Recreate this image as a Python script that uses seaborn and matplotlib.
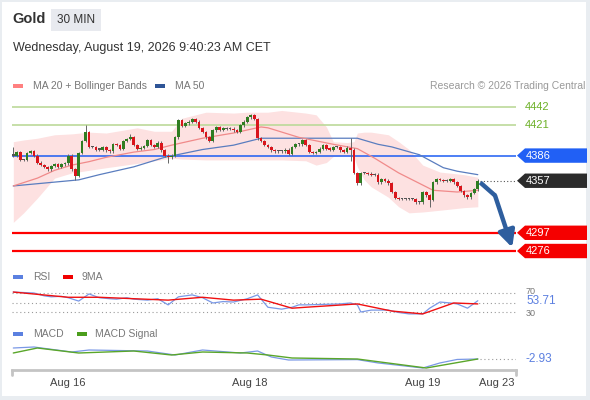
import numpy as np
import pandas as pd
import matplotlib
matplotlib.use("Agg")
import matplotlib.pyplot as plt
import matplotlib.transforms as mtransforms
from matplotlib.patches import Polygon, Rectangle
from matplotlib.lines import Line2D
import seaborn as sns

# --- price candles (30 min closes) ---
closes = [
    4386, 4390, 4381, 4381, 4389, 4391, 4386, 4378, 4375, 4373, 4370, 4374, 4376, 4373, 4376, 4377,
    4386, 4370, 4363, 4389, 4403, 4413, 4396, 4396, 4393, 4393, 4396, 4392, 4391, 4399, 4398, 4394,
    4403, 4405, 4407, 4398, 4394, 4395, 4397, 4404, 4398, 4396, 4401, 4392,
    4386, 4384, 4386, 4407, 4427, 4420, 4423, 4425, 4428, 4425, 4418, 4413, 4407, 4403, 4415, 4419,
    4416, 4417, 4417, 4417, 4415, 4413, 4421, 4425, 4430, 4433, 4428, 4406, 4403, 4398, 4396, 4392,
    4391, 4391, 4391, 4393, 4388, 4396, 4399, 4399, 4404, 4398, 4390, 4389, 4390, 4394, 4398, 4394,
    4393, 4396, 4396, 4392, 4390, 4395, 4393, 4366, 4354, 4366, 4366, 4365, 4364, 4364, 4355, 4359,
    4357, 4354, 4344, 4337, 4336, 4336, 4336, 4336, 4336, 4332, 4332, 4344, 4340, 4335, 4355, 4359,
    4358, 4357, 4357, 4359, 4355, 4351, 4345, 4340, 4338, 4343, 4347, 4357,
]
wick_high = {0: 4396, 21: 4421, 34: 4411, 98: 4406}
wick_low = {18: 4358, 45: 4377, 98: 4380, 121: 4327}

# --- moving averages / bollinger ---
ma20_idx = [0, 7, 12, 17, 22, 27, 35, 41, 46, 55, 64, 72, 74, 83, 93, 100, 105, 112, 118, 122, 129, 135]
ma20_val = [4351, 4360, 4369, 4375, 4379, 4384, 4390, 4393, 4398, 4406, 4412, 4419, 4418, 4407, 4399,
            4394, 4383, 4366, 4354, 4346, 4344, 4346]
ma50_idx = [0, 19, 25, 35, 44, 55, 64, 72, 83, 98, 100, 106, 110, 118, 125, 129, 135]
ma50_val = [4351, 4358, 4364, 4373, 4384, 4393, 4398, 4406, 4406, 4406, 4406, 4399, 4396, 4387, 4372,
            4368, 4364]
band_idx = [0, 3, 7, 12, 17, 22, 27, 36, 41, 46, 49, 56, 64, 68, 74, 78, 85, 88, 91, 93, 97, 99, 100,
            102, 104, 109, 112, 115, 119, 124, 131, 135]
band_hi = [4402, 4404, 4406, 4410, 4411, 4413, 4412, 4418, 4414, 4414, 4429, 4436, 4435, 4436, 4436,
           4438, 4435, 4433, 4419, 4402, 4401, 4402, 4412, 4413, 4413, 4410, 4402, 4393, 4375, 4367,
           4364, 4361]
band_lo = [4309, 4320, 4337, 4360, 4366, 4369, 4372, 4377, 4380, 4383, 4382, 4381, 4381, 4381, 4381,
           4381, 4380, 4375, 4378, 4385, 4386, 4384, 4373, 4358, 4350, 4338, 4327, 4320, 4321, 4323,
           4326, 4327]

# --- key levels ---
green_levels = [4442, 4421]
blue_level = 4386
red_levels = [4297, 4276]
last_price = 4357
arrow_x = [135.7, 140.0, 145.0]
arrow_y = [4355, 4340, 4280]

# --- RSI ---
rsi_idx = [0, 3, 6, 9, 11, 14, 16, 19, 22, 25, 28, 30, 33, 35, 39, 42, 45, 48, 52, 55, 58, 61, 64, 68,
           71, 74, 78, 81, 83, 85, 90, 95, 98, 100, 101, 104, 109, 112, 115, 119, 121, 124, 127, 129,
           132, 135]
rsi_val = [72, 71, 70, 64, 62, 63, 60, 53, 68, 60, 58, 57, 60, 57, 55, 58, 45, 62, 66, 60, 49, 52, 51, 58,
           66, 40, 36, 40, 45, 45, 46, 47, 49, 45, 30, 34, 34, 29, 26, 26, 38, 51, 49, 47, 38, 53.71]
ma9_idx = [0, 16, 25, 45, 55, 64, 72, 81, 85, 100, 110, 119, 128, 135]
ma9_val = [72, 61, 61, 55, 61, 55, 57, 38, 40, 47, 32, 26, 49, 47]
rsi_levels = [70, 50, 30]

# --- MACD ---
macd_idx = [0, 6, 17, 22, 39, 47, 55, 66, 71, 75, 80, 100, 106, 119, 124, 129, 135]
macd_val = [3.67, 4.27, 1.27, 2.47, 1.87, -0.53, 2.47, 0.67, 1.87, -1.73, -3.53, -3.3, -5.3, -8.33,
            -5.3, -3.2, -2.93]
signal_idx = [0, 7, 19, 35, 46, 55, 68, 74, 81, 100, 120, 135]
signal_val = [0.67, 3.67, 0.67, 1.87, -0.53, 1.27, 0.67, -0.53, -2.33, -2.93, -8.33, -2.93]

date_ticks = [15.9, 68.8, 119.1, 140.6]
date_labels = ["Aug 16", "Aug 18", "Aug 19", "Aug 23"]

# --- figure setup ---
sns.set_theme(style="white")
plt.rcParams["font.family"] = ["Liberation Sans", "DejaVu Sans"]

W, H = 590, 400
fig = plt.figure(figsize=(W / 100, H / 100), dpi=100)
fig.patch.set_facecolor("#e9edf1")


def fx(x):
    return x / W


def fy(y):
    return 1 - y / H


fig.add_artist(Rectangle((fx(2), fy(396)), fx(584), 394 / H, transform=fig.transFigure,
                         facecolor="white", edgecolor="none", zorder=0))

XL, XR = -0.38, 146.1


def panel(top, bottom, ylim):
    ax = fig.add_axes([fx(12), fy(bottom), fx(504), (bottom - top) / H])
    ax.set_facecolor("none")
    ax.set_xlim(XL, XR)
    ax.set_ylim(*ylim)
    ax.set_xticks([])
    ax.set_yticks([])
    sns.despine(ax=ax, left=True, bottom=True)
    return ax


# header
fig.text(fx(12), fy(19), "Gold", fontsize=10.5, fontweight="bold", color="#333333", va="center")
fig.add_artist(Rectangle((fx(51), fy(31)), fx(50), 22 / H, transform=fig.transFigure,
                         facecolor="#e8eaef", edgecolor="none"))
fig.text(fx(76), fy(20), "30 MIN", fontsize=8.5, color="#333333", va="center", ha="center")
fig.text(fx(13), fy(48), "Wednesday, August 19, 2026 9:40:23 AM CET", fontsize=9, color="#333333",
         va="center")


def swatch(x, y, color, label, tx):
    fig.add_artist(Rectangle((fx(x), fy(y + 2)), fx(10), 4 / H, transform=fig.transFigure,
                             facecolor=color, edgecolor="none"))
    fig.text(fx(tx), fy(y), label, fontsize=7.5, color="#777777", va="center")


swatch(13, 86, "#ff8080", "MA 20 + Bollinger Bands", 33)
swatch(155, 86, "#2f5597", "MA 50", 175)
fig.text(fx(585), fy(86), "Research \u00a9 2026 Trading Central", fontsize=7.5, color="#999999",
         va="center", ha="right")

# --- price panel ---
px_per_unit = 0.8675
ax = panel(95, 262, (4442 - (262 - 107) / px_per_unit, 4442 + (107 - 95) / px_per_unit))
trans = mtransforms.blended_transform_factory(fig.transFigure, ax.transData)

n = len(closes)
df = pd.DataFrame({"i": np.arange(n), "close": closes})
df["open"] = df["close"].shift(1).fillna(df["close"].iloc[0])
df["top"] = df[["open", "close"]].max(axis=1)
df["bot"] = df[["open", "close"]].min(axis=1)
df["high"] = [wick_high.get(i, t + 1.5) for i, t in zip(df["i"], df["top"])]
df["low"] = [wick_low.get(i, b - 1.5) for i, b in zip(df["i"], df["bot"])]
diff = df["close"] - df["open"]
df["color"] = np.where(diff > 0.5, "#2f7d22", np.where(diff < -0.5, "#d9151c", "#555555"))

ax.fill_between(band_idx, band_lo, band_hi, color="#fde1e1", lw=0, zorder=1)
for lv in green_levels:
    ax.axhline(lv, color="#bcd99a", lw=1.2, zorder=2)
    ax.text(fx(525), lv, str(lv), transform=trans, color="#6cb026", fontsize=8, va="center",
            clip_on=False)
ax.axhline(blue_level, color="#1d5cf2", lw=1.1, zorder=2)
for lv in red_levels:
    ax.axhline(lv, color="#ff0000", lw=1.6, zorder=2)

sns.lineplot(x=ma50_idx, y=ma50_val, ax=ax, color="#5a7dbf", lw=0.9, zorder=3)
sns.lineplot(x=ma20_idx, y=ma20_val, ax=ax, color="#f08a8a", lw=0.9, zorder=3)

ax.vlines(df["i"], df["low"], df["high"], color="#666666", lw=0.7, zorder=4)
ax.bar(df["i"], np.maximum(df["top"] - df["bot"], 1.3), bottom=df["bot"], width=0.8,
       color=df["color"], lw=0, zorder=5)

ax.hlines(last_price, n - 0.5, XR, color="#555555", lw=0.8, linestyles=(0, (1, 2)), zorder=2)

hh = 8.3


def tag(y, text, color):
    pts = [(fx(517), y), (fx(525), y + hh), (fx(587), y + hh), (fx(587), y - hh), (fx(525), y - hh)]
    ax.add_patch(Polygon(pts, closed=True, transform=trans, facecolor=color, edgecolor="none",
                         clip_on=False, zorder=6))
    ax.text(fx(526), y, text, transform=trans, color="white", fontsize=8, va="center", ha="left",
            clip_on=False, zorder=7)


tag(blue_level, str(blue_level), "#2160f5")
tag(last_price, str(last_price), "#2b2b2b")
for lv in red_levels:
    tag(lv, str(lv), "#f50000")

arrow_color = "#2e5e9e"
ax.plot(arrow_x[:2], arrow_y[:2], color=arrow_color, lw=3.2, solid_capstyle="butt", zorder=6,
        clip_on=False)
ax.annotate("", xy=(arrow_x[2], arrow_y[2]), xytext=(arrow_x[1], arrow_y[1]),
            arrowprops=dict(arrowstyle="-|>,head_length=0.7,head_width=0.35", mutation_scale=14,
                            lw=3.2, color=arrow_color, shrinkA=0, shrinkB=0), zorder=6,
            annotation_clip=False)

# --- RSI panel ---
rsi_px = 19 / 40
ax_r = panel(285, 322, (30 - 10 / rsi_px, 70 + 8 / rsi_px))
swatch(13, 277, "#5b80e0", "RSI", 33)
swatch(63, 277, "#f00000", "9MA", 82)
for lv in rsi_levels:
    ax_r.axhline(lv, color="#9a9a9a", lw=0.8, ls=(0, (1, 2.5)))
sns.lineplot(x=rsi_idx, y=rsi_val, ax=ax_r, color="#7a98e6", lw=0.9)
sns.lineplot(x=ma9_idx, y=ma9_val, ax=ax_r, color="#f01010", lw=1.0)
trans_r = mtransforms.blended_transform_factory(fig.transFigure, ax_r.transData)
ax_r.text(fx(526), 70 + 3.5, "70", transform=trans_r, color="#777777", fontsize=6.5, va="center",
          clip_on=False)
ax_r.text(fx(526), 30 - 3.5, "30", transform=trans_r, color="#777777", fontsize=6.5, va="center",
          clip_on=False)
ax_r.text(fx(526), rsi_val[-1], f"{rsi_val[-1]:.2f}", transform=trans_r, color="#5b7fe0",
          fontsize=8.5, va="center", clip_on=False)

# --- MACD panel ---
ax_m = panel(340, 370, (-2.93 - 11 * 0.6, -2.93 + 19 * 0.6))
swatch(13, 334, "#5b80e0", "MACD", 33)
swatch(77, 334, "#4b9e1c", "MACD Signal", 95)
sns.lineplot(x=macd_idx, y=macd_val, ax=ax_m, color="#7a98e6", lw=0.9)
sns.lineplot(x=signal_idx, y=signal_val, ax=ax_m, color="#5aa62a", lw=1.0)
ax_m.hlines(macd_val[-1], macd_idx[-1] + 0.5, XR, color="#9a9a9a", lw=0.8, linestyles=(0, (1, 2.5)))
trans_m = mtransforms.blended_transform_factory(fig.transFigure, ax_m.transData)
ax_m.text(fx(526), macd_val[-1], f"{macd_val[-1]:.2f}", transform=trans_m, color="#5b7fe0",
          fontsize=8.5, va="center", clip_on=False)

# time axis
ax_m.spines["bottom"].set_visible(True)
ax_m.spines["bottom"].set_color("#c4c4c4")
ax_m.spines["bottom"].set_linewidth(2)
ax_m.set_xticks(date_ticks)
ax_m.set_xticklabels(date_labels, fontsize=8, color="#444444")
ax_m.tick_params(axis="x", length=0, pad=6)
for xe in (0, 1):
    ax_m.add_line(Line2D([xe, xe], [0, -0.17], transform=ax_m.transAxes, color="#c4c4c4", lw=2,
                         clip_on=False))

fig.savefig("out.png", dpi=100, facecolor=fig.get_facecolor())
